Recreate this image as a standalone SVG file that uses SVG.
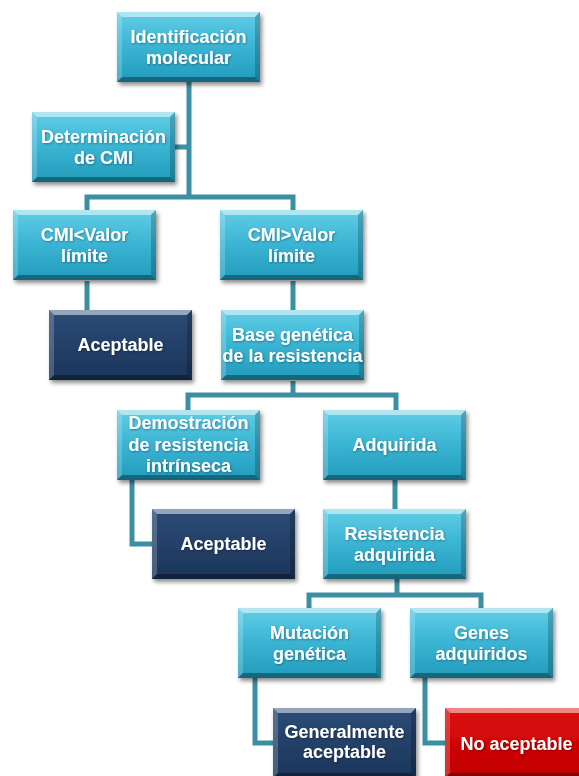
<svg xmlns="http://www.w3.org/2000/svg" xmlns:xlink="http://www.w3.org/1999/xlink" width="579" height="776" viewBox="0 0 579 776">
  <style>
    .lbl { font-family: "Liberation Sans", Arial, sans-serif; font-weight: bold; font-size: 18px; fill: #ffffff; text-anchor: middle; filter: url(#textShadow); }
    .wire { fill: none; stroke: #3c8ea3; stroke-width: 5; stroke-linejoin: miter; stroke-linecap: butt; }
    .box { filter: url(#shadow); }
  </style>
  <defs>
    <filter id="shadow" x="-10%" y="-10%" width="125%" height="130%">
      <feDropShadow dx="2" dy="3" stdDeviation="2" flood-color="#000000" flood-opacity="0.45"/>
    </filter>
    <filter id="textShadow" x="-10%" y="-30%" width="120%" height="160%">
      <feDropShadow dx="0.8" dy="1" stdDeviation="0.8" flood-color="#000000" flood-opacity="0.35"/>
    </filter>
    <linearGradient id="gCyan" x1="0" y1="0" x2="0" y2="1">
      <stop offset="0" stop-color="#62cee6"/>
      <stop offset="0.45" stop-color="#3db6d5"/>
      <stop offset="1" stop-color="#229bbb"/>
    </linearGradient>
    <linearGradient id="gNavy" x1="0" y1="0" x2="0" y2="1">
      <stop offset="0" stop-color="#2c4c77"/>
      <stop offset="1" stop-color="#1b3559"/>
    </linearGradient>
    <linearGradient id="gRed" x1="0" y1="0" x2="0" y2="1">
      <stop offset="0" stop-color="#de0c0c"/>
      <stop offset="1" stop-color="#c00000"/>
    </linearGradient>
    <!-- bevelled edges laid over a 143x70 face -->
    <g id="bevel">
      <polygon points="0,0 143,0 138,5 5,5" fill="#ffffff" fill-opacity="0.5"/>
      <polygon points="0,0 5,5 5,65 0,70" fill="#ffffff" fill-opacity="0.2"/>
      <polygon points="0,70 5,65 138,65 143,70" fill="#000000" fill-opacity="0.35"/>
      <polygon points="143,0 143,70 138,65 138,5" fill="#000000" fill-opacity="0.2"/>
    </g>
    <g id="faceCyan">
      <rect width="143" height="70" fill="url(#gCyan)"/>
      <use xlink:href="#bevel"/>
    </g>
    <g id="faceNavy">
      <rect width="143" height="70" fill="url(#gNavy)"/>
      <use xlink:href="#bevel"/>
    </g>
    <g id="faceRed">
      <rect width="143" height="70" fill="url(#gRed)"/>
      <use xlink:href="#bevel"/>
    </g>
  </defs>

  <rect width="579" height="776" fill="#ffffff"/>

  <!-- connectors -->
  <g id="connectors">
    <path class="wire" d="M189,82 V197"/>
    <path class="wire" d="M174,147 H189"/>
    <path class="wire" d="M87,210 V197 H293 V210"/>
    <path class="wire" d="M87,281 V345 H49"/>
    <path class="wire" d="M293,281 V310"/>
    <path class="wire" d="M293,381 V395"/>
    <path class="wire" d="M188,410 V395 H396 V410"/>
    <path class="wire" d="M132,479 V544 H152"/>
    <path class="wire" d="M395,479 V509"/>
    <path class="wire" d="M397,579 V595"/>
    <path class="wire" d="M309,608 V595 H481 V608"/>
    <path class="wire" d="M255,678 V743 H273"/>
    <path class="wire" d="M425,678 V743 H445"/>
  </g>

  <!-- nodes -->
  <g id="n-identificacion" transform="translate(117,12)">
    <use class="box" xlink:href="#faceCyan"/>
    <text class="lbl" x="71.5" y="31">Identificación</text>
    <text class="lbl" x="71.5" y="52">molecular</text>
  </g>
  <g id="n-determinacion" transform="translate(32,112)">
    <use class="box" xlink:href="#faceCyan"/>
    <text class="lbl" x="71.5" y="31">Determinación</text>
    <text class="lbl" x="71.5" y="52">de CMI</text>
  </g>
  <g id="n-cmi-menor" transform="translate(13,210)">
    <use class="box" xlink:href="#faceCyan"/>
    <text class="lbl" x="71.5" y="31">CMI&lt;Valor</text>
    <text class="lbl" x="71.5" y="52">límite</text>
  </g>
  <g id="n-cmi-mayor" transform="translate(220,210)">
    <use class="box" xlink:href="#faceCyan"/>
    <text class="lbl" x="71.5" y="31">CMI&gt;Valor</text>
    <text class="lbl" x="71.5" y="52">límite</text>
  </g>
  <g id="n-aceptable-1" transform="translate(49,310)">
    <use class="box" xlink:href="#faceNavy"/>
    <text class="lbl" x="71.5" y="41">Aceptable</text>
  </g>
  <g id="n-base-genetica" transform="translate(221,310)">
    <use class="box" xlink:href="#faceCyan"/>
    <text class="lbl" x="71.5" y="31">Base genética</text>
    <text class="lbl" x="71.5" y="52">de la resistencia</text>
  </g>
  <g id="n-intrinseca" transform="translate(117,410)">
    <use class="box" xlink:href="#faceCyan"/>
    <text class="lbl" x="71.5" y="19">Demostración</text>
    <text class="lbl" x="71.5" y="41">de resistencia</text>
    <text class="lbl" x="71.5" y="62">intrínseca</text>
  </g>
  <g id="n-adquirida" transform="translate(323,410)">
    <use class="box" xlink:href="#faceCyan"/>
    <text class="lbl" x="71.5" y="41">Adquirida</text>
  </g>
  <g id="n-aceptable-2" transform="translate(152,509)">
    <use class="box" xlink:href="#faceNavy"/>
    <text class="lbl" x="71.5" y="41">Aceptable</text>
  </g>
  <g id="n-resistencia-adquirida" transform="translate(323,509)">
    <use class="box" xlink:href="#faceCyan"/>
    <text class="lbl" x="71.5" y="31">Resistencia</text>
    <text class="lbl" x="71.5" y="52">adquirida</text>
  </g>
  <g id="n-mutacion" transform="translate(238,608)">
    <use class="box" xlink:href="#faceCyan"/>
    <text class="lbl" x="71.5" y="31">Mutación</text>
    <text class="lbl" x="71.5" y="52">genética</text>
  </g>
  <g id="n-genes" transform="translate(410,608)">
    <use class="box" xlink:href="#faceCyan"/>
    <text class="lbl" x="71.5" y="31">Genes</text>
    <text class="lbl" x="71.5" y="52">adquiridos</text>
  </g>
  <g id="n-generalmente" transform="translate(273,708)">
    <use class="box" xlink:href="#faceNavy"/>
    <text class="lbl" x="71.5" y="30">Generalmente</text>
    <text class="lbl" x="71.5" y="50">aceptable</text>
  </g>
  <g id="n-no-aceptable" transform="translate(445,708)">
    <use class="box" xlink:href="#faceRed"/>
    <text class="lbl" x="71.5" y="42">No aceptable</text>
  </g>
</svg>
